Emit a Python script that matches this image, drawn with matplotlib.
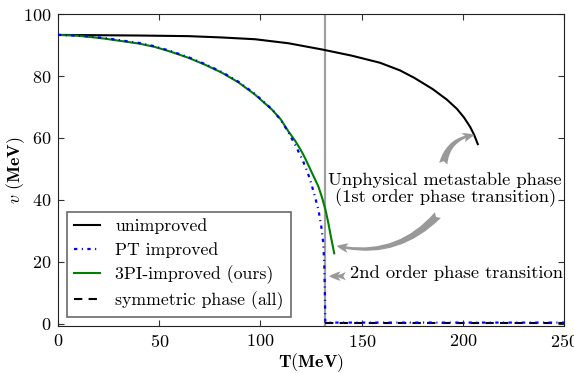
import matplotlib
matplotlib.use("Agg")
import matplotlib.pyplot as plt

plt.rcParams['font.family'] = 'serif'
plt.rcParams['font.serif'] = ['cmr10', 'DejaVu Serif']
plt.rcParams['mathtext.fontset'] = 'cm'
plt.rcParams['axes.formatter.use_mathtext'] = True

# Data
T_unimp = [0, 20, 40, 64.4, 80, 97.3, 113.8, 130.3, 145, 159, 169, 176, 185, 192, 197, 200.5, 203.5, 205.5, 207.3]
v_unimp = [93.3, 93.2, 93.1, 92.9, 92.5, 91.9, 90.6, 88.6, 86.6, 84.3, 81.8, 79.4, 75.8, 72.4, 69.4, 66.6, 63.6, 61.0, 58.0]

T_3pi = [0, 8, 15, 23, 31.5, 40, 47.9, 56, 64.4, 72.5, 80.9, 89, 97.3, 105.6, 110, 113.8, 117, 120, 122.0, 124.5, 126.5, 128.6, 130.5, 132.2, 133.5, 134.8, 136.4]
v_3pi = [93.3, 93.1, 92.7, 92.1, 91.3, 90.5, 89.4, 87.8, 85.9, 83.7, 81.1, 78.0, 74.0, 69.2, 66.0, 62.1, 59.2, 56.0, 53.5, 50.0, 47.2, 44.3, 40.5, 36.5, 32.5, 28.0, 22.7]

T_pt = [0, 8, 15, 23, 31.5, 40, 47.9, 56, 64.4, 72.5, 80.9, 89, 97.3, 105.6, 110, 113.8, 117.1, 119.6, 121.2, 122.9, 124.5, 126.5, 128.6, 130.0, 131.0, 131.5, 131.8, 132.0, 133.0, 250]
v_pt = [93.3, 93.1, 92.8, 92.3, 91.5, 90.7, 89.6, 88.0, 86.1, 83.9, 81.3, 78.2, 74.2, 69.3, 65.8, 61.8, 57.8, 54.5, 52.2, 49.5, 46.5, 42.0, 36.8, 31.5, 26.0, 19.0, 10.0, 0.5, 0.3, 0.3]

T_sym = [132, 250]
v_sym = [0.3, 0.3]

T_c = 132

fig = plt.figure(figsize=(5.74, 3.73), dpi=100)
ax = fig.add_axes([0.101, 0.126, 0.882, 0.836])

ax.axvline(T_c, color='#a0a0a0', lw=1.6, zorder=1)
ax.plot(T_unimp, v_unimp, color='black', lw=1.5, label='unimproved', zorder=3)
ax.plot(T_pt, v_pt, color='blue', lw=1.6, ls=(0, (1.5, 2, 0.5, 2)), label='PT improved', zorder=4)
ax.plot(T_3pi, v_3pi, color='green', lw=1.5, label='3PI-improved (ours)', zorder=3)
ax.plot(T_sym, v_sym, color='black', lw=1.5, ls=(0, (4, 3)), label='symmetric phase (all)', zorder=2)

ax.set_xlim(0, 250)
ax.set_ylim(-0.8, 100)
ax.set_xticks([0, 50, 100, 150, 200, 250])
ax.set_yticks([0, 20, 40, 60, 80, 100])
ax.tick_params(direction='in', top=True, right=True, labelsize=13, length=4, color='#333333', pad=5)
for s in ax.spines.values():
    s.set_color('#222222')

ax.set_xlabel(r'$\mathbf{T(MeV)}$', fontsize=13, labelpad=1)
ax.set_ylabel(r'$v\ \mathbf{(MeV)}$', fontsize=13)
ax.yaxis.set_label_coords(-0.062, 0.5)

leg = ax.legend(loc='lower left', bbox_to_anchor=(0.017, 0.028), borderaxespad=0,
                fontsize=12.8, frameon=True, fancybox=False, handlelength=1.5,
                handletextpad=0.85, labelspacing=0.42, borderpad=0.4)
leg.get_frame().set_edgecolor('#444444')
leg.get_frame().set_linewidth(1.2)

ax.text(191.2, 43.4, 'Unphysical metastable phase\n(1st order phase transition)',
        ha='center', va='center', fontsize=13.3, linespacing=1.05)
ax.text(249.6, 16.4, '2nd order phase transition', ha='right', va='center', fontsize=13.3)

arrow_kw = dict(arrowstyle='fancy,head_length=0.55,head_width=0.45,tail_width=0.4',
                color='#999999', lw=0, mutation_scale=15)
ax.annotate('', xy=(207, 61.0), xytext=(190, 50.8),
            arrowprops=dict(connectionstyle='arc3,rad=-0.4', **arrow_kw))
ax.annotate('', xy=(136.3, 25.3), xytext=(188.5, 35.7),
            arrowprops=dict(connectionstyle='arc3,rad=-0.3', **arrow_kw))
ax.annotate('', xy=(132.5, 15.3), xytext=(143.5, 15.3),
            arrowprops=dict(connectionstyle='arc3,rad=0', **arrow_kw))

fig.savefig('out.png', dpi=100)
